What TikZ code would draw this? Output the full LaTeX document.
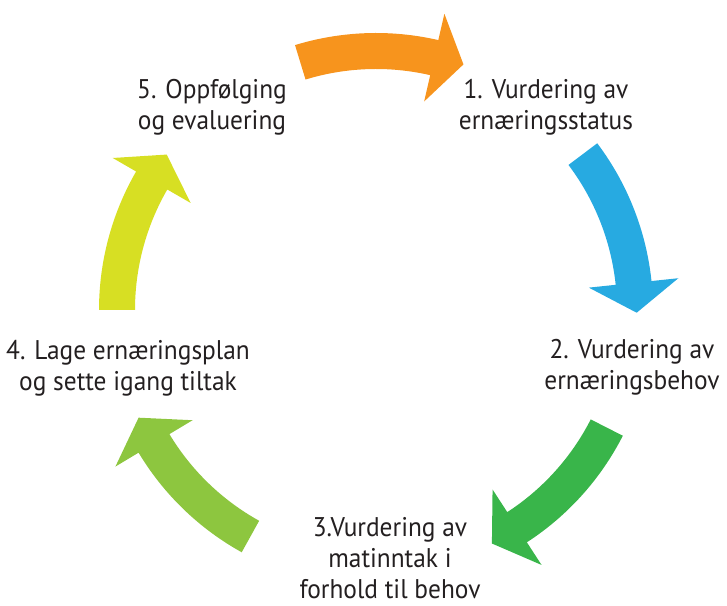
\documentclass[tikz,border=0pt]{standalone}
\usepackage{fontspec}
\setmainfont[FakeStretch=0.94]{PT Sans}
\definecolor{ink}{HTML}{231F20}
\definecolor{cOrange}{HTML}{F7941D}
\definecolor{cBlue}{HTML}{27AAE1}
\definecolor{cGreen}{HTML}{39B54A}
\definecolor{cLeaf}{HTML}{8DC63F}
\definecolor{cLime}{HTML}{D7DF23}
% curved clockwise arrow on the ring: colour, tail angle, head-base angle
\newcommand\ringarrow[3]{%
  \fill[#1] (#2:277pt) arc[start angle=#2, end angle=#3, radius=277pt]
    -- (#3:304pt) -- (#3-6.6:260.7pt) -- (#3:214pt) -- (#3:241pt)
    arc[start angle=#3, end angle=#2, radius=241pt] -- cycle;}
% labels are placed by the baseline of their last line
\tikzset{steplabel/.style={align=center, text=ink, inner sep=0pt,
  font=\fontsize{27}{31}\selectfont, anchor=base}}
\begin{document}
\begin{tikzpicture}[x=1pt, y=1pt]
  \useasboundingbox (0,0) rectangle (727,605);
  \begin{scope}[shift={(376,295)}]
    \ringarrow{cOrange}{107}{77}
    \ringarrow{cBlue}{37}{6}
    \ringarrow{cGreen}{-27}{-57}
    \ringarrow{cLeaf}{241}{211}
    \ringarrow{cLime}{180}{150}
  \end{scope}
  \node[steplabel] (s1) at (546,475) {1. Vurdering av\\ernæringsstatus};
  \node[steplabel] (s2) at (632,215) {2. Vurdering av\\ernæringsbehov};
  \node[steplabel] (s3) at (390,7) {3.Vurdering av\\matinntak i\\forhold til behov};
  \node[steplabel] (s4) at (128,214) {4. Lage ernæringsplan\\og sette igang tiltak};
  \node[steplabel] (s5) at (212,475) {5. Oppfølging\\og evaluering};
\end{tikzpicture}
\end{document}
